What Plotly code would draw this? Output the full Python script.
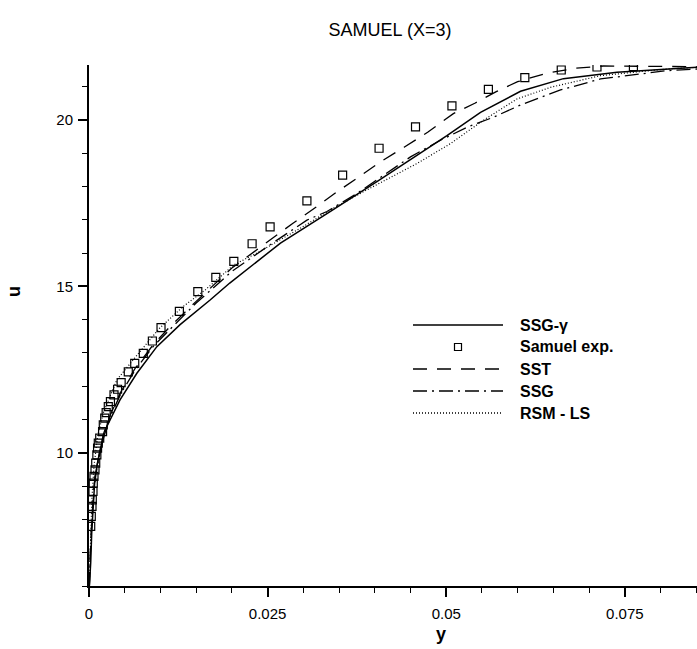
import plotly.graph_objects as go

# ---------------- data ----------------
exp_y = [0.00024, 0.00032, 0.00042, 0.00046, 0.00056, 0.0006, 0.0007, 0.00084, 0.00094, 0.0011,
         0.0012, 0.0013, 0.0015, 0.0019, 0.0020, 0.0022, 0.0024, 0.0027, 0.0030, 0.0035, 0.0040,
         0.0045, 0.0055, 0.0064, 0.0076, 0.00887, 0.01008, 0.01265, 0.01523, 0.01775, 0.02027,
         0.02283, 0.02535, 0.0305, 0.0355, 0.0406, 0.0457, 0.0508, 0.0559, 0.0610, 0.0661,
         0.0711, 0.0762]
exp_u = [7.79, 8.09, 8.39, 8.59, 8.84, 9.09, 9.29, 9.49, 9.69, 9.94,
         10.14, 10.29, 10.44, 10.64, 10.84, 11.04, 11.21, 11.39, 11.54, 11.74, 11.91,
         12.11, 12.43, 12.69, 12.99, 13.36, 13.76, 14.25, 14.84, 15.27, 15.75,
         16.28, 16.79, 17.57, 18.34, 19.15, 19.79, 20.42, 20.92, 21.27, 21.50,
         21.59, 21.60]

ssg_gamma_y = [0.00005, 0.00015, 0.00024, 0.00038, 0.0006, 0.00084, 0.00154, 0.0025, 0.00434,
               0.0067, 0.0095, 0.01275, 0.01695, 0.0197, 0.0268, 0.0296, 0.0338, 0.0403, 0.0459,
               0.0501, 0.0548, 0.0604, 0.0664, 0.0739, 0.0851]
ssg_gamma_u = [6.0, 6.3, 6.7, 7.6, 8.59, 9.29, 10.09, 10.79, 11.59,
               12.39, 13.19, 13.85, 14.59, 15.1, 16.3, 16.69, 17.25, 18.15, 18.94,
               19.53, 20.23, 20.86, 21.24, 21.43, 21.58]

sst_y = [0.00005, 0.0001, 0.0002, 0.0004, 0.0007, 0.001, 0.002, 0.003, 0.0045, 0.0065, 0.009,
         0.0113, 0.015, 0.02, 0.025, 0.0285, 0.0317, 0.0347, 0.0378, 0.041, 0.0441, 0.0474,
         0.051, 0.054, 0.057, 0.060, 0.064, 0.068, 0.072, 0.0851]
sst_u = [6.0, 6.4, 7.1, 8.0, 9.0, 9.5, 10.55, 11.15, 11.85, 12.55, 13.25,
         13.78, 14.55, 15.55, 16.35, 16.89, 17.37, 17.84, 18.29, 18.77, 19.18, 19.63,
         20.19, 20.5, 20.85, 21.15, 21.4, 21.55, 21.62, 21.6]

ssg_y = [0.00005, 0.0001, 0.0002, 0.0004, 0.0007, 0.001, 0.002, 0.003, 0.0045, 0.0065, 0.009,
         0.0113, 0.015, 0.02, 0.025, 0.0305, 0.0333, 0.0375, 0.0412, 0.045, 0.0492, 0.0529,
         0.0566, 0.0604, 0.066, 0.0716, 0.0809, 0.0851]
ssg_u = [6.0, 6.4, 7.0, 7.9, 8.9, 9.4, 10.5, 11.1, 11.8, 12.5, 13.2,
         13.7, 14.5, 15.45, 16.2, 16.99, 17.25, 17.79, 18.34, 18.89, 19.39, 19.78,
         20.08, 20.45, 20.9, 21.23, 21.48, 21.53]

rsm_y = [0.00005, 0.0001, 0.0002, 0.0004, 0.0007, 0.0012, 0.002, 0.0039, 0.0064, 0.0099, 0.0132,
         0.0163, 0.0203, 0.0235, 0.0296, 0.0342, 0.0389, 0.0459, 0.0506, 0.0552, 0.0599, 0.0646,
         0.0716, 0.0809, 0.0851]
rsm_u = [6.1, 6.6, 7.5, 8.6, 9.6, 10.5, 11.2, 12.19, 12.85, 13.75, 14.4,
         14.9, 15.65, 16.0, 16.75, 17.35, 17.9, 18.69, 19.29, 19.99, 20.63, 20.98,
         21.33, 21.53, 21.58]

legend_labels = ["SSG-\u03b3", "Samuel exp.", "SST", "SSG", "RSM - LS"]

x_range = [0, 0.0851]
y_range = [6, 21.65]

# ---------------- figure ----------------
W, H = 697, 649
ML, MR, MT, MB = 89, 0, 65, 63
fig = go.Figure()

line_black = "black"
fig.add_trace(go.Scatter(x=ssg_gamma_y, y=ssg_gamma_u, mode="lines",
                         line=dict(color=line_black, width=1.5), name=legend_labels[0]))
fig.add_trace(go.Scatter(x=exp_y, y=exp_u, mode="markers",
                         marker=dict(symbol="square-open", size=8, color=line_black,
                                     line=dict(width=1.2, color=line_black)), name=legend_labels[1]))
fig.add_trace(go.Scatter(x=sst_y, y=sst_u, mode="lines",
                         line=dict(color=line_black, width=1.3, dash="14px,10px"), name=legend_labels[2]))
fig.add_trace(go.Scatter(x=ssg_y, y=ssg_u, mode="lines",
                         line=dict(color=line_black, width=1.3, dash="14px,5px,2px,5px"), name=legend_labels[3]))
fig.add_trace(go.Scatter(x=rsm_y, y=rsm_u, mode="lines",
                         line=dict(color=line_black, width=1.2, dash="1px,2px"), name=legend_labels[4]))

font_family = "Liberation Sans, Arial, sans-serif"

fig.update_layout(
    width=W, height=H,
    margin=dict(l=ML, r=MR, t=MT, b=MB),
    paper_bgcolor="white", plot_bgcolor="white",
    showlegend=False,
    font=dict(family=font_family, color="black", size=15),
    title=dict(text="SAMUEL (X=3)", x=390 / W, xref="container", xanchor="center",
               y=1 - 30 / H, yref="container", yanchor="middle",
               font=dict(family=font_family, size=18, color="black")),
)

fig.update_xaxes(
    range=x_range, showgrid=False, zeroline=False,
    showline=True, linecolor="black", linewidth=2,
    ticks="outside", ticklen=9, tickwidth=2, tickcolor="black",
    tick0=0, dtick=0.025, tickformat="~g", ticklabelstandoff=4,
    tickfont=dict(size=15, family=font_family),
    minor=dict(ticks="outside", dtick=0.005, tick0=0, ticklen=5, tickwidth=1, tickcolor="black"),
)
fig.update_yaxes(
    range=y_range, showgrid=False, zeroline=False,
    showline=True, linecolor="black", linewidth=2,
    ticks="outside", ticklen=9, tickwidth=2, tickcolor="black",
    tick0=0, dtick=5, ticklabelstandoff=2,
    tickfont=dict(size=15, family=font_family),
    minor=dict(ticks="outside", dtick=1, tick0=0, ticklen=5, tickwidth=1, tickcolor="black"),
)

# axis titles placed like the reference
fig.add_annotation(text="<b>y</b>", xref="paper", yref="paper",
                   x=(441 - ML) / (W - ML - MR), y=(H - MB - 634) / (H - MT - MB),
                   xanchor="center", yanchor="middle", showarrow=False,
                   font=dict(size=18, family=font_family, color="black"))
fig.add_annotation(text="<b>u</b>", xref="paper", yref="paper", textangle=-90,
                   x=(14 - ML) / (W - ML - MR), y=(H - MB - 292) / (H - MT - MB),
                   xanchor="center", yanchor="middle", showarrow=False,
                   font=dict(size=18, family=font_family, color="black"))

# ---------------- custom legend (long line samples) ----------------
PW = W - ML - MR
PH = H - MT - MB

def px_x(p):
    return (p - ML) / PW

def px_y(p):
    return (H - MB - p) / PH

legend_rows = [325, 347, 369, 391, 413]
legend_x0, legend_x1, legend_text_x = 413, 503, 518
dash_styles = [None, None, "14px,10px", "14px,5px,2px,5px", "1px,2px"]
shapes = []
for i, (lab, py) in enumerate(zip(legend_labels, legend_rows)):
    if i == 1:
        cx = (legend_x0 + legend_x1) / 2
        shapes.append(dict(type="rect", xref="paper", yref="paper",
                           x0=px_x(cx - 3.5), x1=px_x(cx + 3.5),
                           y0=px_y(py + 3.5), y1=px_y(py - 3.5),
                           line=dict(color="black", width=1.2), fillcolor="white"))
    else:
        ln = dict(color="black", width=1.5 if i == 0 else 1.3)
        if dash_styles[i]:
            ln["dash"] = dash_styles[i]
        shapes.append(dict(type="line", xref="paper", yref="paper",
                           x0=px_x(legend_x0), x1=px_x(legend_x1),
                           y0=px_y(py), y1=px_y(py), line=ln))
    fig.add_annotation(text="<b>%s</b>" % lab, xref="paper", yref="paper",
                       x=px_x(legend_text_x), y=px_y(py), xanchor="left", yanchor="middle",
                       showarrow=False, font=dict(size=16, family=font_family, color="black"))
fig.update_layout(shapes=shapes)

fig.write_html("out.html", config={"displayModeBar": False},
               post_script="document.body.style.margin='0';document.body.style.overflow='hidden';")
